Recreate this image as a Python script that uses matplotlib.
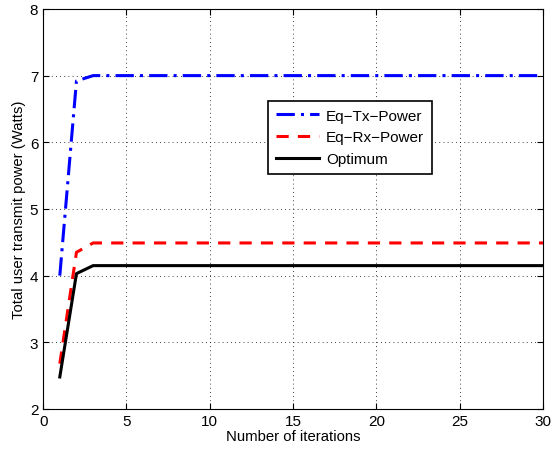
import matplotlib
matplotlib.use("Agg")
import matplotlib.pyplot as plt
import numpy as np

# iterations 1..30; values converge after iteration 3
iters = np.arange(1, 31)
tx_head = [4.0, 6.92, 7.0]
rx_head = [2.68, 4.35, 4.49]
opt_head = [2.48, 4.03, 4.15]
tx_power = tx_head + [7.0] * 27
rx_power = rx_head + [4.49] * 27
opt_power = opt_head + [4.15] * 27

plt.rcParams.update({"font.family": ["Liberation Sans", "DejaVu Sans"], "font.size": 10.7})
fig = plt.figure(figsize=(5.53, 4.52), dpi=100)
ax = fig.add_axes([0.078, 0.093, 0.904, 0.885])

ax.plot(iters, tx_power, color="#0000ff", linestyle="-.", linewidth=2.2,
        dashes=(6, 2, 1, 2), label="Eq\u2212Tx\u2212Power")
ax.plot(iters, rx_power, color="#ff0000", linestyle="--", linewidth=2.2,
        dashes=(4, 3), label="Eq\u2212Rx\u2212Power")
ax.plot(iters, opt_power, color="black", linestyle="-", linewidth=2.2, label="Optimum")

ax.set_xlim(0, 30)
ax.set_ylim(2, 8)
ax.set_xticks(range(0, 31, 5))
ax.set_yticks(range(2, 9))
ax.grid(True, color="black", linestyle=(0, (1, 4)), linewidth=0.6)
ax.tick_params(direction="in", top=True, right=True, length=4, labelsize=11)
ax.set_xlabel("Number of iterations", labelpad=1)
ax.set_ylabel("Total user transmit power (Watts)", labelpad=3)

leg = ax.legend(loc="upper left", bbox_to_anchor=(0.45, 0.77), frameon=True,
                fancybox=False, edgecolor="black", framealpha=1, fontsize=11,
                handlelength=2.8, borderaxespad=0, labelspacing=0.5,
                borderpad=0.5, handletextpad=0.5)
leg.get_frame().set_linewidth(1.2)

fig.savefig("out.png", dpi=100)
